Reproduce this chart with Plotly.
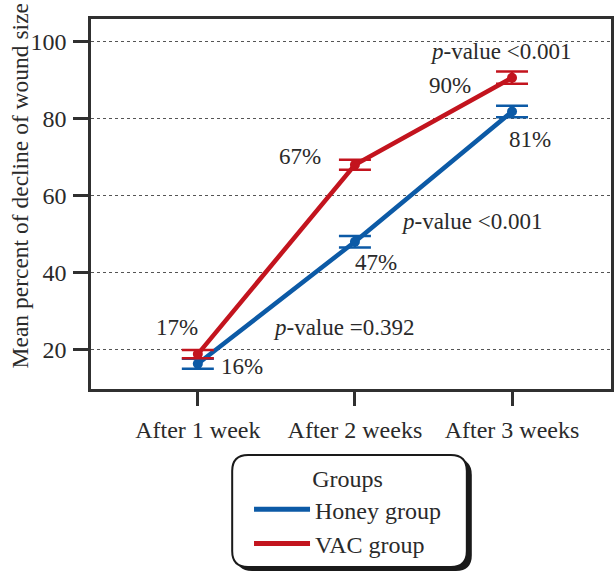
import plotly.graph_objects as go

categories = ["After 1 week", "After 2 weeks", "After 3 weeks"]
honey_mean = [16.3, 48.0, 81.8]
honey_err = [1.3, 1.5, 1.5]
vac_mean = [18.8, 68.0, 90.6]
vac_err = [1.1, 1.3, 1.6]
yticks = [20, 40, 60, 80, 100]

BLUE = "#0c5aa6"
RED = "#c3141e"
FONT = "Liberation Serif"
TXT = "#2a2a2a"
AX = "#303030"

fig = go.Figure()
xs = list(range(len(categories)))
for name, mean, err, col in [("Honey group", honey_mean, honey_err, BLUE),
                             ("VAC group", vac_mean, vac_err, RED)]:
    fig.add_trace(go.Scatter(
        x=xs, y=mean, mode="lines+markers", name=name,
        line=dict(color=col, width=4.5), marker=dict(color=col, size=10),
        error_y=dict(type="data", array=err, color=col, thickness=2.5, width=16),
        showlegend=False, legendgroup=name))
    fig.add_trace(go.Scatter(
        x=[None], y=[None], mode="lines", name=name,
        line=dict(color=col, width=5), showlegend=True, legendgroup=name))

labels = [
    ("17%", -0.134, 25.7), ("16%", 0.28, 15.6),
    ("67%", 0.65, 70.1), ("47%", 1.134, 42.6),
    ("90%", 1.605, 88.6), ("81%", 2.115, 74.5),
    ("<i>p</i>-value =0.392", 0.93, 25.7),
    ("<i>p</i>-value <0.001", 1.745, 53.2),
    ("<i>p</i>-value <0.001", 1.924, 97.4),
]
for t, x, y in labels:
    fig.add_annotation(x=x, y=y, xref="x", yref="y", text=t, showarrow=False,
                       font=dict(family=FONT, size=23, color=TXT))

W, H = 616, 573
L, R, T, B = 91, 2, 19, 184
pw, ph = W - L - R, H - T - B
def px2paper(x, y):
    return (x - L) / pw, (H - B - y) / ph

# y-axis title placed as rotated text
tx, ty = px2paper(20, 186)
fig.add_annotation(x=tx, y=ty, xref="paper", yref="paper",
                   text="Mean percent of decline of wound size", textangle=-90,
                   showarrow=False, xanchor="center", yanchor="middle",
                   font=dict(family=FONT, size=23.5, color=TXT))

# rounded legend frame with shadow
def rrect(x0, y0, x1, y1, rx, ry):
    return (f"M {x0+rx},{y0} L {x1-rx},{y0} Q {x1},{y0} {x1},{y0+ry} "
            f"L {x1},{y1-ry} Q {x1},{y1} {x1-rx},{y1} L {x0+rx},{y1} "
            f"Q {x0},{y1} {x0},{y1-ry} L {x0},{y0+ry} Q {x0},{y0} {x0+rx},{y0} Z")

rx, ry = 16 / pw, 16 / ph
sx0, sy0 = px2paper(237, 459)
sx1, sy1 = px2paper(474, 571)
fig.add_shape(type="path", xref="paper", yref="paper",
              path=rrect(sx0, sy1, sx1, sy0, rx, ry), fillcolor="#1a1a1a",
              line=dict(width=0), layer="below")
bx0, by0 = px2paper(233, 455)
bx1, by1 = px2paper(469, 567)
fig.add_shape(type="path", xref="paper", yref="paper",
              path=rrect(bx0, by1, bx1, by0, rx, ry), fillcolor="white",
              line=dict(color="#1a1a1a", width=2), layer="below")

fig.update_layout(
    width=W, height=H,
    margin=dict(l=L, r=R, t=T, b=B),
    paper_bgcolor="white", plot_bgcolor="white",
    font=dict(family=FONT, size=24, color=TXT),
    legend=dict(
        title=dict(text="Groups", side="top center", font=dict(size=24)),
        x=px2paper(349, 0)[0], xanchor="center", y=px2paper(0, 456)[1], yanchor="top",
        bgcolor="rgba(0,0,0,0)", borderwidth=0,
        font=dict(size=24, color=TXT), tracegroupgap=0,
        itemwidth=56,
    ),
    xaxis=dict(
        tickmode="array", tickvals=xs, ticktext=categories,
        range=[-0.68, 2.63], showgrid=False, zeroline=False,
        ticks="outside", ticklen=14, tickwidth=2.5, tickcolor=AX,
        showline=True, linecolor=AX, linewidth=2.5, mirror=True,
        tickfont=dict(size=24, color=TXT), ticklabelstandoff=3,
    ),
    yaxis=dict(
        range=[9.74, 105.84], tickvals=yticks,
        showgrid=True, gridcolor="#555", griddash="dot", gridwidth=1,
        zeroline=False, ticks="outside", ticklen=15, tickwidth=2.5, tickcolor=AX,
        showline=True, linecolor=AX, linewidth=2.5, mirror=True,
        tickfont=dict(size=24, color=TXT), ticklabelstandoff=2,
    ),
)

fig.write_html("out.html", config={"displayModeBar": False},
               post_script="document.body.style.margin='0';")
